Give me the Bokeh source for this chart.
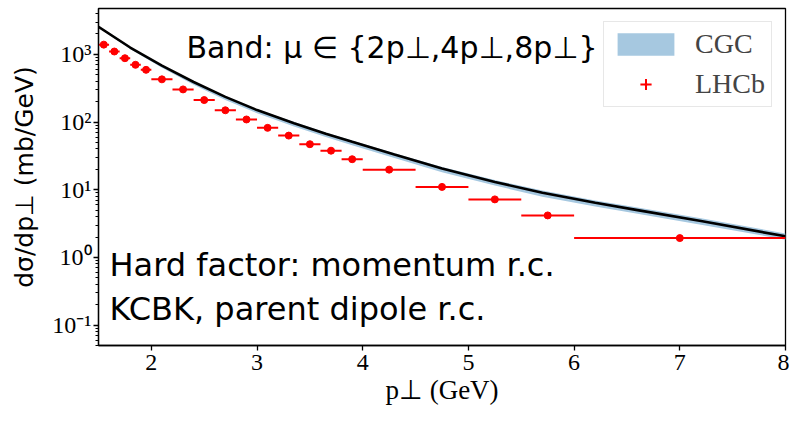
from bokeh.plotting import figure
from bokeh.models import (ColumnDataSource, Label, Legend, LegendItem, FixedTicker,
                          LogTicker, Range1d)
from bokeh.embed import file_html
from bokeh.resources import INLINE

# ---- CGC band (central curve and scale-variation band) ----
cgc_pt = [1.5, 1.8, 2.1, 2.4, 2.7, 3.0, 3.35, 3.65, 3.9, 4.3, 4.75, 5.25, 5.7, 6.2, 6.6, 7.2, 8.0]
cgc_mid = [2550, 1260, 680, 390, 235, 150, 96, 67, 51, 33, 20.5, 13.0, 9.0, 6.4, 5.0, 3.45, 2.05]
cgc_lo = [2480, 1200, 635, 356, 212, 135, 86, 60, 45.5, 29.4, 18.1, 11.5, 7.9, 5.65, 4.4, 3.05, 1.83]
cgc_hi = [2580, 1275, 693, 398, 242, 155, 100, 70, 53.5, 34.7, 21.7, 13.9, 9.7, 6.95, 5.45, 3.8, 2.26]

# ---- LHCb data ----
lhcb_pt = [1.55, 1.65, 1.75, 1.85, 1.95, 2.1, 2.3, 2.5, 2.7, 2.9, 3.1, 3.3, 3.5, 3.7, 3.9,
           4.25, 4.75, 5.25, 5.75, 7.0]
lhcb_xerr = [0.05, 0.05, 0.05, 0.05, 0.05, 0.1, 0.1, 0.1, 0.1, 0.1, 0.1, 0.1, 0.1, 0.1, 0.1,
             0.25, 0.25, 0.25, 0.25, 1.0]
lhcb_val = [1390, 1100, 876, 700, 590, 427, 303, 211, 149, 109, 82, 63, 47, 37.7, 28.2,
            19.8, 11.0, 7.2, 4.17, 1.93]
lhcb_yerr = [50, 40, 32, 25, 21, 15, 11, 8, 5.5, 4, 3, 2.4, 1.8, 1.5, 1.1,
             0.8, 0.45, 0.3, 0.18, 0.09]

x_ticks = [2, 3, 4, 5, 6, 7, 8]
y_ticks = [0.1, 1, 10, 100, 1000]
y_tick_labels = ["10\u207b\u00b9", "10\u2070", "10\u00b9", "10\u00b2", "10\u00b3"]

RED = "#ff0000"
BAND = "#a6c8e0"
SERIF = "Liberation Serif"
SANS = "DejaVu Sans"

p = figure(width=789, height=407, y_axis_type="log",
           x_range=Range1d(1.5, 8), y_range=Range1d(0.05, 4750),
           output_backend="svg", toolbar_location=None,
           min_border_left=98, min_border_right=4, min_border_top=8, min_border_bottom=58)

p.xgrid.visible = False
p.ygrid.visible = False
p.outline_line_color = "black"
p.outline_line_width = 1.3
p.background_fill_color = "white"
p.border_fill_color = "white"

cgc_src = ColumnDataSource(dict(x=cgc_pt, mid=cgc_mid, lo=cgc_lo, hi=cgc_hi))
band_r = p.varea(x="x", y1="lo", y2="hi", source=cgc_src, fill_color=BAND, fill_alpha=1.0)
p.line(x="x", y="mid", source=cgc_src, line_color="black", line_width=2.6)

x0 = [a - b for a, b in zip(lhcb_pt, lhcb_xerr)]
x1 = [a + b for a, b in zip(lhcb_pt, lhcb_xerr)]
y0 = [a - b for a, b in zip(lhcb_val, lhcb_yerr)]
y1 = [a + b for a, b in zip(lhcb_val, lhcb_yerr)]
lhcb_src = ColumnDataSource(dict(x=lhcb_pt, y=lhcb_val, x0=x0, x1=x1, y0=y0, y1=y1))
p.segment(x0="x0", x1="x1", y0="y", y1="y", source=lhcb_src, line_color=RED, line_width=2)
p.segment(x0="x", x1="x", y0="y0", y1="y1", source=lhcb_src, line_color=RED, line_width=2)
p.scatter(x="x", y="y", source=lhcb_src, marker="circle", size=7,
          fill_color=RED, line_color=RED)
# zero-size markers: invisible in the plot, they only build the legend's error-bar symbol
cross_r = p.scatter(x="x", y="y", source=lhcb_src, marker="cross", size=0,
                    line_color=RED, line_width=2)
dot_r = p.scatter(x="x", y="y", source=lhcb_src, marker="dot", size=0,
                  line_color=RED, fill_color=RED, line_width=3)

# axes
p.xaxis.ticker = FixedTicker(ticks=x_ticks)
p.yaxis.ticker = LogTicker(num_minor_ticks=10)
p.yaxis.major_label_overrides = {t: s for t, s in zip(y_ticks, y_tick_labels)}
for ax in (p.xaxis[0], p.yaxis[0]):
    ax.axis_line_color = "black"
    ax.axis_line_width = 1.3
    ax.major_tick_line_color = "black"
    ax.major_tick_line_width = 1.3
    ax.major_tick_out = 5
    ax.major_tick_in = 0
    ax.minor_tick_out = 3
    ax.minor_tick_in = 0
    ax.minor_tick_line_color = "black"
    ax.major_label_text_font = SERIF
    ax.major_label_text_font_size = "24px"
    ax.major_label_text_color = "black"
    ax.axis_label_text_color = "black"
    ax.axis_label_text_font_style = "normal"
p.xaxis.minor_tick_line_color = None
p.xaxis.major_label_standoff = 4
p.yaxis.major_label_standoff = 2

p.xaxis.axis_label = "p\u22a5 (GeV)"
p.xaxis.axis_label_text_font = SERIF
p.xaxis.axis_label_text_font_size = "27px"
p.xaxis.axis_label_standoff = 2

p.yaxis.axis_label = "d\u03c3/dp\u22a5 (mb/GeV)"
p.yaxis.axis_label_text_font = SANS
p.yaxis.axis_label_text_font_size = "25px"
p.yaxis.axis_label_standoff = 10

# legend
legend = Legend(items=[LegendItem(label="CGC", renderers=[band_r]),
                       LegendItem(label="LHCb", renderers=[cross_r, dot_r])],
                location="top_right", margin=13, padding=6, spacing=8,
                glyph_width=71, glyph_height=28, label_standoff=14,
                label_text_font=SERIF, label_text_font_size="28px",
                border_line_color="#d0d0d0", border_line_width=1.3,
                background_fill_color="white", background_fill_alpha=0.9)
p.add_layout(legend)


def add_label(x, y, text, size):
    p.add_layout(Label(x=x, y=y, x_units="screen", y_units="screen", text=text,
                       text_font=SANS, text_font_size=size, text_color="black",
                       text_align="left", text_baseline="alphabetic"))


# in-plot texts
add_label(88, 298, "Band: \u03bc \u2208 {2p\u22a5,4p\u22a5,8p\u22a5}", "30px")
add_label(11, 81, "Hard factor: momentum r.c.", "32px")
add_label(11, 37, "KCBK, parent dipole r.c.", "32px")

open("out.html", "w").write(file_html(p, INLINE))
